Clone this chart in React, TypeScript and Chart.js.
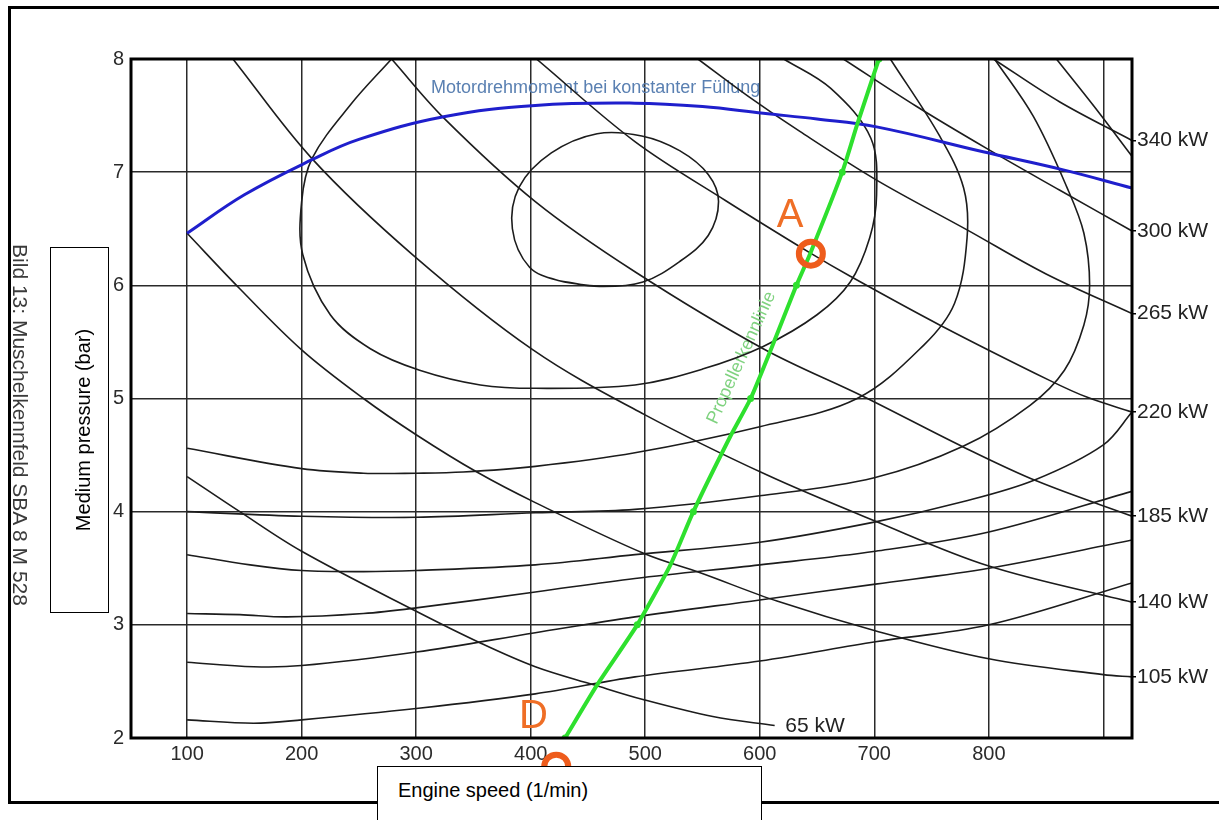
import React, { useEffect, useRef } from 'react';
import { Chart, registerables } from 'chart.js';

Chart.register(...registerables);

const FONT = "'Liberation Sans', Arial, Helvetica, sans-serif";

// ---- axes ----
const xGridValues = [100, 200, 300, 400, 500, 600, 700, 800, 900];
const xTickLabels = ['100', '200', '300', '400', '500', '600', '700', '800', ''];
const yTickValues = [2, 3, 4, 5, 6, 7, 8];
const kwLabelValues = [2.54, 3.2, 3.96, 4.88, 5.75, 6.48, 7.28];
const kwLabels = ['105 kW', '140 kW', '185 kW', '220 kW', '265 kW', '300 kW', '340 kW'];

// ---- constant power curves [speed, pressure] ----
const kw340 = [[804, 8.0], [862, 7.62], [925, 7.28]];
const kw300 = [[673, 8.0], [737, 7.58], [798, 7.21], [862, 6.84], [925, 6.48]];
const kw265 = [[546, 8.0], [590, 7.67], [635, 7.36], [702, 6.93], [781, 6.49], [850, 6.1], [925, 5.75]];
const kw220 = [[405, 8.0], [491, 7.27], [570, 6.75], [645, 6.28], [679, 6.08], [757, 5.65], [853, 5.16], [886, 5.01], [925, 4.88]];
const kw185 = [[278.5, 8.0], [324, 7.48], [404, 6.74], [491, 6.12], [603, 5.44], [690, 5.02], [778, 4.57], [842, 4.27], [925, 3.96]];
const kw140 = [[140, 8.0], [209, 7.12], [297, 6.27], [402, 5.43], [499, 4.86], [605, 4.33], [700, 3.92], [800, 3.52], [925, 3.2]];
const kw105 = [[100, 6.46], [146, 5.97], [200, 5.43], [254, 5.0], [300, 4.68], [353, 4.35], [404, 4.08], [499, 3.63], [548, 3.46], [615, 3.21], [700, 2.95], [800, 2.7], [900, 2.56], [925, 2.54]];
const kw65 = [[100, 4.31], [146, 4.0], [200, 3.65], [300, 3.12], [356, 2.84], [404, 2.63], [455, 2.47], [498, 2.34], [559, 2.19], [613, 2.11]];

// ---- consumption contours ----
const c1 = [[460, 5.99], [425, 6.04], [399, 6.16], [384, 6.5], [390, 6.87], [418, 7.17], [458, 7.34], [497, 7.32], [530, 7.19], [555, 6.98], [564, 6.74], [555, 6.44], [530, 6.21], [498, 6.03], [460, 5.99], [425, 6.04]];
const c2 = [[278.5, 8.0], [243, 7.6], [209, 7.12], [200, 6.74], [201, 6.27], [225, 5.74], [260, 5.44], [303, 5.25], [356, 5.12], [404, 5.09], [491, 5.12], [550, 5.26], [603, 5.46], [650, 5.74], [679, 6.03], [696, 6.42], [702, 6.8], [697, 7.3], [662, 7.74], [621, 8.0]];
const c3 = [[100, 4.56], [200, 4.38], [254, 4.34], [300, 4.34], [341, 4.35], [404, 4.4], [491, 4.52], [600, 4.75], [685, 5.0], [743, 5.47], [770, 5.84], [781, 6.42], [778, 6.86], [757, 7.32], [714, 8.0]];
const c4 = [[100, 4.0], [200, 3.96], [300, 3.95], [404, 3.99], [491, 4.02], [600, 4.14], [700, 4.3], [778, 4.58], [836, 4.94], [866, 5.25], [883, 5.65], [888, 6.0], [883, 6.46], [868, 6.87], [839, 7.49], [805, 8.0]];
const c5 = [[100, 3.62], [155, 3.53], [200, 3.48], [254, 3.47], [300, 3.48], [404, 3.53], [491, 3.62], [600, 3.73], [701, 3.91], [778, 4.09], [840, 4.28], [900, 4.59], [925, 4.88]];
const c5Top = [[859, 8.0], [892, 7.58], [925, 7.14]];
const c6 = [[100, 3.1], [146, 3.09], [187, 3.07], [254, 3.1], [300, 3.15], [404, 3.29], [491, 3.41], [600, 3.53], [701, 3.65], [800, 3.82], [925, 4.18]];
const c7 = [[100, 2.67], [158, 2.63], [200, 2.64], [300, 2.76], [404, 2.93], [491, 3.07], [600, 3.22], [701, 3.36], [800, 3.5], [925, 3.75]];
const c8 = [[100, 2.16], [158, 2.13], [200, 2.16], [300, 2.26], [404, 2.39], [491, 2.54], [600, 2.68], [701, 2.85], [800, 3.0], [925, 3.37]];

// ---- torque at constant filling ----
const torque = [[100, 6.46], [150, 6.8], [209, 7.11], [250, 7.29], [324, 7.49], [404, 7.59], [491, 7.61], [550, 7.58], [603, 7.52], [650, 7.47], [702, 7.4], [795, 7.18], [865, 7.02], [925, 6.86]];

// ---- propeller curve ----
const propeller = [[430, 2.0], [458, 2.47], [493, 3.0], [522, 3.53], [542, 4.0], [574, 4.66], [592, 5.0], [610, 5.44], [632, 6.0], [644, 6.28], [672, 7.0], [685, 7.42], [704, 8.0]];
const propellerDots = [[430, 2.0], [493, 3.0], [542, 4.0], [592, 5.0], [632, 6.0], [672, 7.0], [704, 8.0]];

// ---- operating points ----
const pointNames = ['A', 'D'];
const pointValues = [[644.6, 6.28], [422.3, 1.747]];
const pointNamePos = [[614.8, 6.518], [389.7, 2.086]];

// ---- curve texts ----
const torqueText = 'Motordrehmoment bei konstanter Füllung';
const torqueTextPos = [313, 7.697];
const propText = 'Propellerkennlinie';
const propTextPos = [584, 5.36];
const kw65Text = '65 kW';
const kw65TextPos = [622.2, 2.056];

const toXY = (pts: number[][]) => pts.map(([x, y]) => ({ x, y }));

const blackCurves = [kw340, kw300, kw265, kw220, kw185, kw140, kw105, kw65, c1, c2, c3, c4, c5, c5Top, c6, c7, c8];

const ORANGE = '#ee5c1c';
const ORANGE_TXT = '#ef6e26';

const textPlugin = {
  id: 'curveTexts',
  beforeDatasetsDraw(chart: any) {
    const { ctx, scales } = chart;
    const x = scales.x, y = scales.y;
    ctx.save();
    ctx.font = `18px ${FONT}`;
    ctx.fillStyle = '#5a80b2';
    ctx.textAlign = 'left';
    ctx.textBaseline = 'alphabetic';
    ctx.fillText(torqueText, x.getPixelForValue(torqueTextPos[0]), y.getPixelForValue(torqueTextPos[1]));
    ctx.translate(x.getPixelForValue(propTextPos[0]), y.getPixelForValue(propTextPos[1]));
    ctx.rotate((-65.6 * Math.PI) / 180);
    ctx.font = `18px ${FONT}`;
    ctx.fillStyle = '#7fd27f';
    ctx.textAlign = 'center';
    ctx.textBaseline = 'middle';
    ctx.fillText(propText, 0, 0);
    ctx.restore();
  },
  afterDatasetsDraw(chart: any) {
    const { ctx, scales, chartArea } = chart;
    const x = scales.x, y = scales.y;
    ctx.save();
    ctx.lineWidth = 3;
    ctx.strokeStyle = '#000';
    ctx.strokeRect(chartArea.left, chartArea.top, chartArea.right - chartArea.left, chartArea.bottom - chartArea.top);
    ctx.font = `21px ${FONT}`;
    ctx.fillStyle = '#222';
    ctx.textAlign = 'left';
    ctx.textBaseline = 'alphabetic';
    ctx.fillText(kw65Text, x.getPixelForValue(kw65TextPos[0]), y.getPixelForValue(kw65TextPos[1]));
    pointValues.forEach(([px, py], i) => {
      ctx.beginPath();
      ctx.arc(x.getPixelForValue(px), y.getPixelForValue(py), 12, 0, Math.PI * 2);
      ctx.lineWidth = 6;
      ctx.strokeStyle = ORANGE;
      ctx.stroke();
      ctx.font = `40px ${FONT}`;
      ctx.fillStyle = ORANGE_TXT;
      ctx.fillText(pointNames[i], x.getPixelForValue(pointNamePos[i][0]), y.getPixelForValue(pointNamePos[i][1]));
    });
    ctx.restore();
  },
};

export default function App() {
  const canvasRef = useRef<HTMLCanvasElement | null>(null);

  useEffect(() => {
    if (!canvasRef.current) return;
    Chart.defaults.font.family = FONT;
    const datasets: any[] = [
      {
        label: 'dots',
        data: toXY(propellerDots),
        showLine: false,
        pointRadius: 3.5,
        pointBackgroundColor: '#2ee02e',
        pointBorderWidth: 0,
        borderColor: '#2ee02e',
      },
      {
        label: 'Propellerkennlinie',
        data: toXY(propeller),
        borderColor: '#2ee02e',
        borderWidth: 4,
        pointRadius: 0,
        tension: 0.2,
        fill: false,
      },
      {
        label: 'Motordrehmoment',
        data: toXY(torque),
        borderColor: '#1f1fcc',
        borderWidth: 3,
        pointRadius: 0,
        tension: 0.4,
        fill: false,
      },
      ...blackCurves.map((c, i) => ({
        label: 'curve' + i,
        data: toXY(c),
        borderColor: '#1c1c1c',
        borderWidth: 1.6,
        pointRadius: 0,
        tension: 0.35,
        fill: false,
      })),
    ];

    const chart = new Chart(canvasRef.current, {
      type: 'line',
      data: { datasets },
      options: {
        responsive: false,
        animation: false,
        devicePixelRatio: 1,
        layout: { padding: { left: 100, right: 0, top: 59, bottom: 52 } },
        plugins: { legend: { display: false }, tooltip: { enabled: false } },
        scales: {
          x: {
            type: 'linear',
            position: 'bottom',
            min: 51,
            max: 925,
            afterBuildTicks: (ax: any) => {
              ax.ticks = xGridValues.map((v) => ({ value: v }));
            },
            afterFit: (ax: any) => {
              ax.height = 30;
            },
            grid: { color: '#2a2a2a', lineWidth: 1.5, drawTicks: false },
            border: { display: false },
            ticks: {
              padding: 4,
              autoSkip: false,
              maxRotation: 0,
              color: '#2b2b2b',
              font: { size: 20, family: FONT },
              callback: (_v: any, i: number) => xTickLabels[i],
            },
          },
          y: {
            type: 'linear',
            position: 'left',
            min: 2,
            max: 8,
            afterBuildTicks: (ax: any) => {
              ax.ticks = yTickValues.map((v) => ({ value: v }));
            },
            afterFit: (ax: any) => {
              ax.width = 31;
            },
            grid: { color: '#2a2a2a', lineWidth: 1.5, drawTicks: false },
            border: { display: false },
            ticks: {
              padding: 7,
              autoSkip: false,
              color: '#2b2b2b',
              font: { size: 20, family: FONT },
              callback: (v: any) => String(v),
            },
          },
          y2: {
            type: 'linear',
            position: 'right',
            min: 2,
            max: 8,
            afterBuildTicks: (ax: any) => {
              ax.ticks = kwLabelValues.map((v) => ({ value: v }));
            },
            afterFit: (ax: any) => {
              ax.width = 87;
            },
            grid: { drawOnChartArea: false, drawTicks: true, tickLength: 4, color: '#000', lineWidth: 1.5 },
            border: { display: false },
            ticks: {
              padding: 1,
              autoSkip: false,
              color: '#222',
              font: { size: 21, family: FONT },
              callback: (_v: any, i: number) => kwLabels[i],
            },
          },
        },
      } as any,
      plugins: [textPlugin],
    });
    return () => chart.destroy();
  }, []);

  return (
    <div style={{ position: 'fixed', left: 0, top: 0, width: 1219, height: 820, overflow: 'hidden', background: '#fff' }}>
      <div
        style={{
          position: 'absolute',
          left: 8,
          top: 6,
          width: 1300,
          height: 798,
          border: '3px solid #000',
          boxSizing: 'border-box',
        }}
      />
      <canvas ref={canvasRef} width={1219} height={820} style={{ position: 'absolute', left: 0, top: 0 }} />
      <div
        style={{
          position: 'absolute',
          left: 19.5,
          top: 425,
          transform: 'translate(-50%, -50%) rotate(90deg)',
          whiteSpace: 'nowrap',
          font: `21px ${FONT}`,
          lineHeight: '21px',
          color: '#3b3b3b',
        }}
      >
        Bild 13: Muschelkennfeld SBA 8 M 528
      </div>
      <div
        style={{
          position: 'absolute',
          left: 50,
          top: 247,
          width: 59,
          height: 366,
          border: '1px solid #000',
          boxSizing: 'border-box',
          background: '#fff',
        }}
      />
      <div
        style={{
          position: 'absolute',
          left: 83,
          top: 430,
          transform: 'translate(-50%, -50%) rotate(-90deg)',
          whiteSpace: 'nowrap',
          font: `20px ${FONT}`,
          lineHeight: '20px',
          color: '#000',
        }}
      >
        Medium pressure (bar)
      </div>
      <div
        style={{
          position: 'absolute',
          left: 377,
          top: 766,
          width: 385,
          height: 80,
          border: '1.5px solid #000',
          boxSizing: 'border-box',
          background: '#fff',
        }}
      />
      <div
        style={{
          position: 'absolute',
          left: 398,
          top: 780,
          whiteSpace: 'nowrap',
          font: `20px ${FONT}`,
          lineHeight: '20px',
          color: '#000',
        }}
      >
        Engine speed (1/min)
      </div>
    </div>
  );
}
